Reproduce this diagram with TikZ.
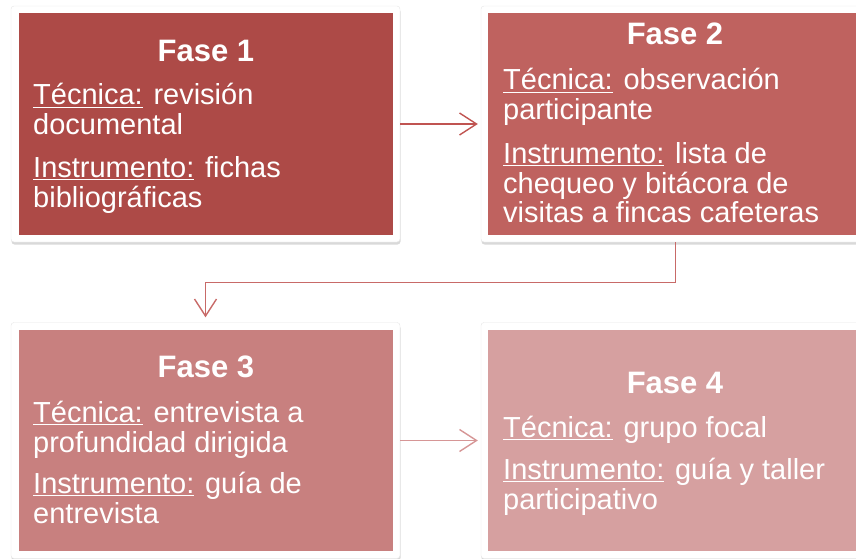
\documentclass[tikz,border=0pt]{standalone}
\usepackage{fontspec}
\setmainfont{Liberation Sans}
\usetikzlibrary{arrows.meta,shadows}
\definecolor{cA}{RGB}{173,74,71}
\definecolor{cB}{RGB}{191,98,95}
\definecolor{cC}{RGB}{200,128,127}
\definecolor{cD}{RGB}{214,160,160}
\definecolor{aA}{RGB}{192,84,81}
\definecolor{aB}{RGB}{200,106,104}
\definecolor{aC}{RGB}{214,150,150}
\newcommand\ulw[1]{\setbox0\hbox{#1}\rlap{\rule[-3.2pt]{\wd0}{1.3pt}}#1}
\begin{document}
\begin{tikzpicture}[x=1pt,y=-1pt,
  frame/.style={draw=black!10, fill=white, rounded corners=3pt, minimum width=389pt, minimum height=236pt, inner sep=0pt,
    drop shadow={opacity=0.3, shadow xshift=0.5pt, shadow yshift=-2.5pt}},
  card/.style={fill=#1, minimum width=374pt, minimum height=222pt, inner sep=0pt},
  ttl/.style={text=white, font=\fontsize{31}{31}\selectfont\bfseries, anchor=base, inner sep=0pt},
  body/.style={text=white, font=\fontsize{29}{30}\selectfont, anchor=base west, inner sep=0pt},
  conn/.style={draw=#1, line width=1.4pt, -{Straight Barb[length=17pt,width=22pt,line width=1.4pt]}}]
\useasboundingbox (0,0) rectangle (856,559);
\clip (0,0) rectangle (856,559);
% frames
\node[frame] (f1) at (205.5,124) {};
\node[frame] (f2) at (675.5,124) {};
\node[frame] (f3) at (205.5,440.5) {};
\node[frame] (f4) at (675.5,440.5) {};
\node[card=cA] (b1) at (206,124) {};
\node[card=cB] (b2) at (675,124) {};
\node[card=cC, minimum height=221pt] (b3) at (206,440.5) {};
\node[card=cD, minimum height=221pt] (b4) at (675,440.5) {};
% box 1
\node[ttl] (h1) at (206,62) {Fase 1};
\node[body] (p1a) at (33,105) {\ulw{Técnica:} revisión};
\node[body] (p1b) at (33,135) {documental};
\node[body] (p1c) at (33,177) {\ulw{Instrumento:} fichas};
\node[body] (p1d) at (33,207) {bibliográficas};
% box 2
\node[ttl] (h2) at (675,45) {Fase 2};
\node[body] (p2a) at (503,90) {\ulw{Técnica:} observación};
\node[body] (p2b) at (503,120) {participante};
\node[body] (p2c) at (503,163) {\ulw{Instrumento:} lista de};
\node[body] (p2d) at (503,193) {chequeo y bitácora de};
\node[body] (p2e) at (503,222) {visitas a fincas cafeteras};
% box 3
\node[ttl] (h3) at (206,377) {Fase 3};
\node[body] (p3a) at (33,422) {\ulw{Técnica:} entrevista a};
\node[body] (p3b) at (33,452) {profundidad dirigida};
\node[body] (p3c) at (33,493) {\ulw{Instrumento:} guía de};
\node[body] (p3d) at (33,523) {entrevista};
% box 4
\node[ttl] (h4) at (675,393) {Fase 4};
\node[body] (p4a) at (503,437) {\ulw{Técnica:} grupo focal};
\node[body] (p4b) at (503,479) {\ulw{Instrumento:} guía y taller};
\node[body] (p4c) at (503,509) {participativo};
% connectors
\draw[conn=aA, shorten >=3pt] (f1.east) -- (f2.west);
\draw[conn=aB, shorten >=5pt] (f2.south) -- ++(0,40) coordinate (k1) -| (f3.north);
\draw[conn=aC, shorten >=3pt] (f3.east) -- (f4.west);
\end{tikzpicture}
\end{document}
